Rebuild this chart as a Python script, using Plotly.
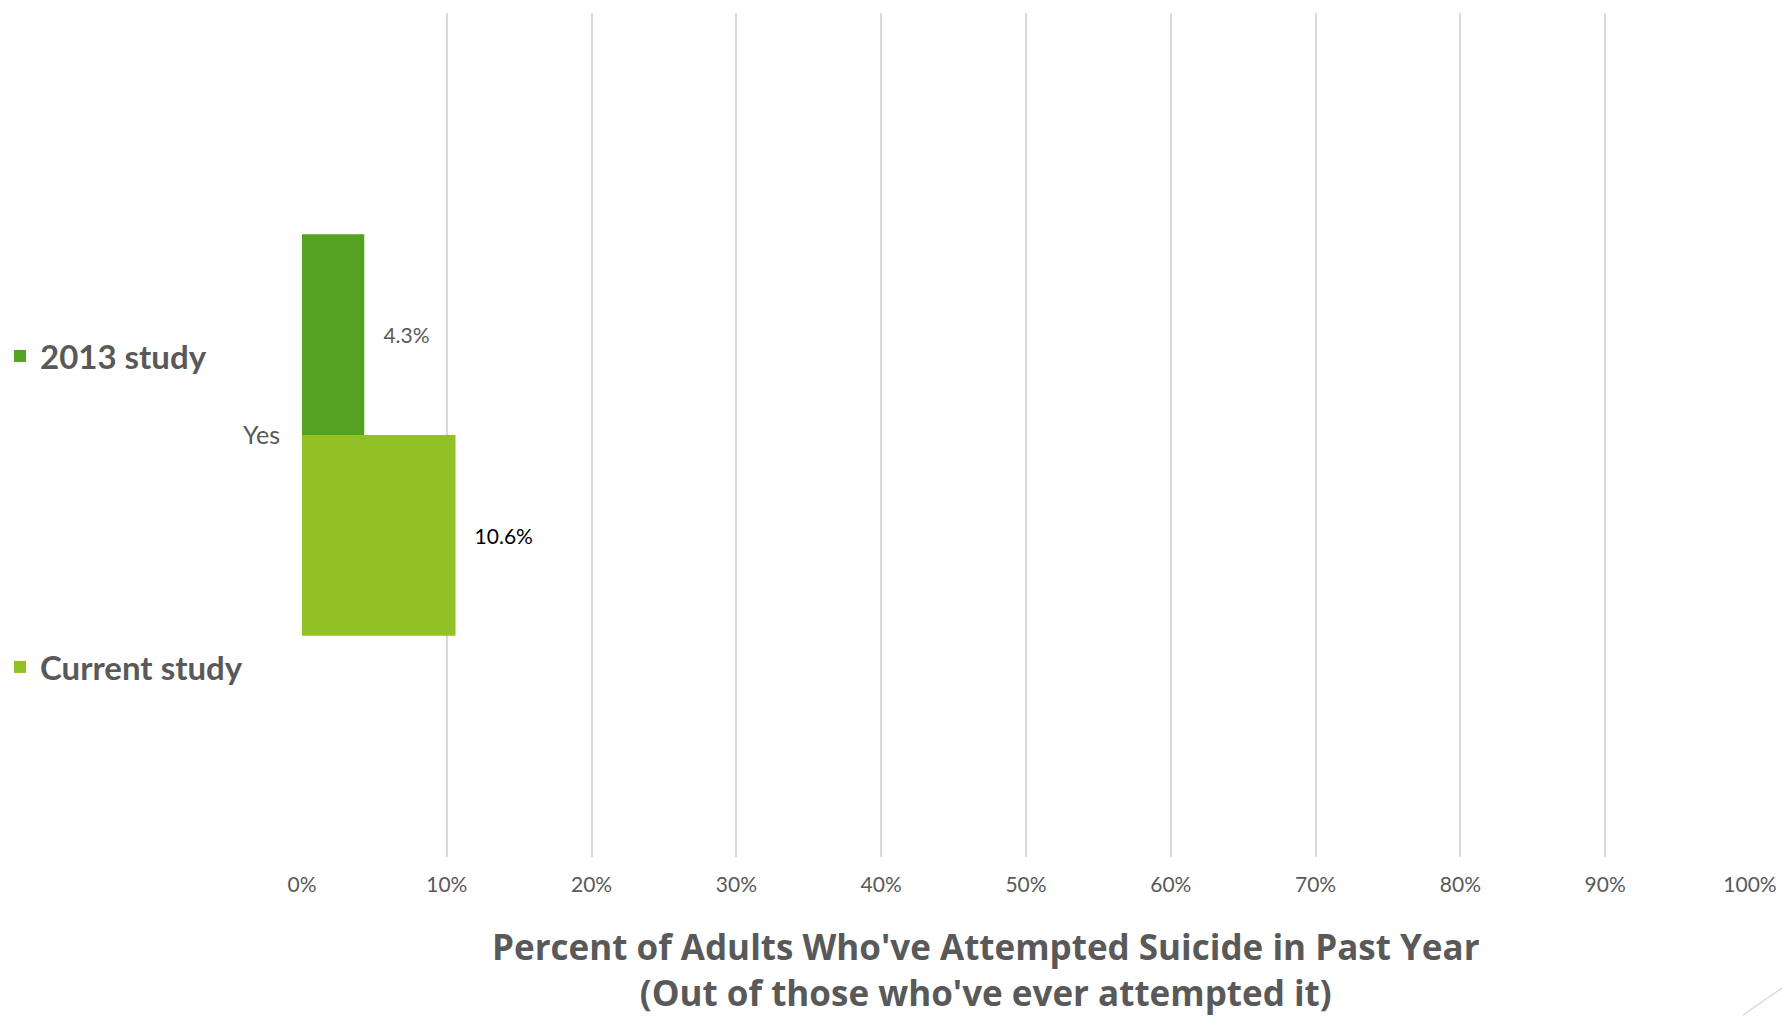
import plotly.graph_objects as go

categories = ["Yes"]
series_names = ["2013 study", "Current study"]
values_2013 = [4.3]
values_current = [10.6]
x_ticks = [0, 10, 20, 30, 40, 50, 60, 70, 80, 90, 100]
x_tick_labels = [f"{v}%" for v in x_ticks]
title_lines = ["Percent of Adults Who've Attempted Suicide in Past Year",
               "(Out of those who've ever attempted it)"]

FONT = "Lato"
GREY = "#595959"
GRID = "#D9D9D9"
NB = "\u00a0"

fig = go.Figure()
# Current study first so it sits below (plotly places first trace at lower y)
fig.add_trace(go.Bar(
    y=categories, x=values_current, name=series_names[1], orientation="h",
    marker=dict(color="#92C126", line=dict(width=0)),
    text=[f"{NB*3}{v:.1f}%" for v in values_current], textposition="outside",
    textfont=dict(family=FONT, size=21, color="#000000"),
    cliponaxis=False, legend="legend2",
))
fig.add_trace(go.Bar(
    y=categories, x=values_2013, name=series_names[0], orientation="h",
    marker=dict(color="#55A122", line=dict(width=0)),
    text=[f"{NB*3}{v:.1f}%" for v in values_2013], textposition="outside",
    textfont=dict(family=FONT, size=21, color=GREY),
    cliponaxis=False, legend="legend",
))

legend_common = dict(
    xref="container", yref="container", x=0.0, xanchor="left", yanchor="middle",
    font=dict(family=FONT, size=33, color=GREY, weight="bold"),
    bgcolor="rgba(0,0,0,0)", itemclick=False, itemdoubleclick=False,
)

fig.update_layout(
    width=1782, height=1016,
    margin=dict(l=302, r=32, t=13, b=159, autoexpand=False),
    paper_bgcolor="white", plot_bgcolor="white",
    barmode="group", bargap=0.524, bargroupgap=0,
    showlegend=True,
    legend=dict(**legend_common, y=1 - 356 / 1016),
    legend2=dict(**legend_common, y=1 - 667 / 1016),
    font=dict(family=FONT, color=GREY),
    xaxis=dict(
        range=[0, 100], tickvals=x_ticks, ticktext=x_tick_labels,
        showgrid=True, gridcolor=GRID, gridwidth=1.5,
        zeroline=False, showline=False, automargin=False,
        ticks="outside", ticklen=9, tickcolor="rgba(0,0,0,0)",
        tickfont=dict(family=FONT, size=21, color=GREY),
        fixedrange=True,
    ),
    yaxis=dict(
        showgrid=False, zeroline=False, showline=False, automargin=False,
        ticks="outside", ticklen=16, tickcolor="rgba(0,0,0,0)",
        tickfont=dict(family=FONT, size=25, color=GREY),
        fixedrange=True,
    ),
    annotations=[dict(
        text="<br>".join(title_lines), xref="paper", yref="paper",
        x=(986 - 302) / 1448, y=(857 - 969) / 844,
        xanchor="center", yanchor="middle", showarrow=False, align="center",
        font=dict(family="Open Sans", size=35, color=GREY, weight="bold"),
    )],
    shapes=[dict(type="line", xref="paper", yref="paper",
                 x0=(1743 - 302) / 1448, y0=(857 - 1015) / 844,
                 x1=(1782 - 302) / 1448, y1=(857 - 988) / 844,
                 line=dict(color=GRID, width=1.5))],
)

fig.write_html("out.html", config={"displayModeBar": False})
